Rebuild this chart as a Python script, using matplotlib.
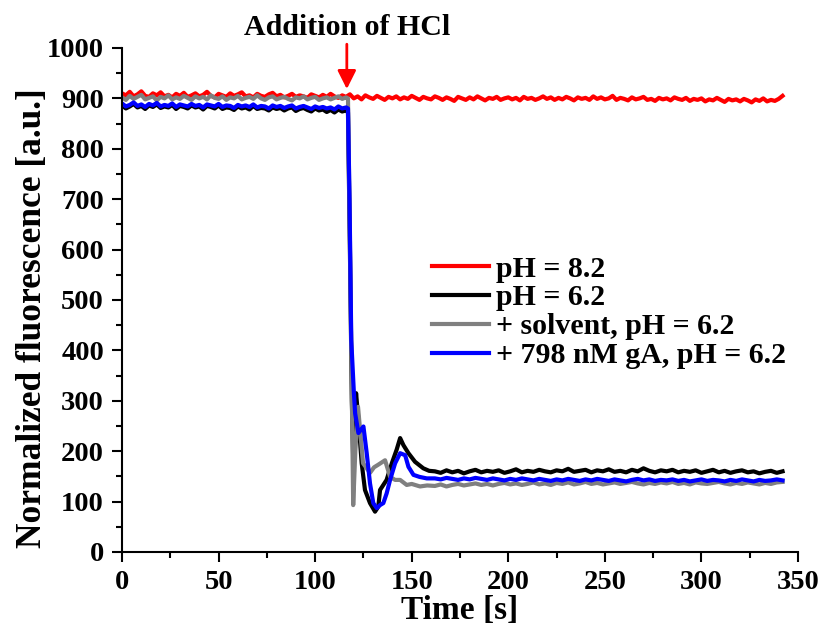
import numpy as np
import matplotlib.pyplot as plt
from matplotlib.ticker import MultipleLocator

plt.rcParams['font.family'] = ['Liberation Serif', 'DejaVu Serif']
plt.rcParams['font.weight'] = 'bold'

# red trace, pH 8.2, sampled every 2 s from 0 to 342 s
red_vals = [910, 906, 913, 904, 908, 914, 905, 903, 910, 906,
            912, 904, 907, 902, 909, 905, 911, 903, 906, 910,
            904, 907, 913, 905, 902, 909, 906, 903, 910, 905,
            908, 912, 904, 906, 902, 909, 905, 903, 908, 911,
            904, 907, 902, 905, 909, 903, 906, 904, 901, 908,
            905, 902, 907, 903, 909, 904, 901, 906, 903, 908,
            900, 904, 898, 906, 902, 899, 905, 901, 897, 903,
            900, 904, 898, 902, 899, 905, 901, 897, 903, 900,
            898, 904, 901, 897, 902, 899, 895, 903, 900, 897,
            902, 898, 904, 900, 896, 901, 899, 903, 897, 900,
            902, 898, 901, 896, 903, 899, 901, 897, 900, 904,
            899, 902, 897, 901, 898, 903, 900, 896, 902, 899,
            901, 897, 904, 899, 902, 898, 900, 905, 897, 901,
            899, 896, 902, 898, 900, 903, 897, 899, 895, 901,
            898, 900, 896, 902, 899, 897, 901, 895, 899, 897,
            900, 894, 898, 896, 901, 897, 893, 899, 896, 898,
            894, 899, 896, 892, 898, 895, 900, 894, 897, 895,
            899, 905]
t_red = np.arange(len(red_vals)) * 2.0

# before HCl (0..116 s, every 2 s)
black_pre = [886, 880, 884, 889, 882, 885, 879, 886, 883, 888,
             881, 884, 882, 887, 879, 885, 883, 880, 886, 882,
             884, 878, 885, 883, 880, 886, 879, 882, 881, 877,
             884, 880, 882, 878, 885, 879, 881, 880, 876, 882,
             879, 881, 876, 880, 882, 875, 879, 881, 877, 874,
             880, 876, 878, 873, 877, 872, 878, 874, 876]
gray_pre = [902, 897, 905, 899, 903, 907, 898, 901, 904, 896,
            903, 900, 906, 898, 902, 899, 905, 901, 897, 904,
            900, 903, 898, 906, 901, 899, 904, 897, 902, 900,
            905, 898, 901, 903, 899, 906, 900, 897, 902, 904,
            898, 901, 903, 899, 896, 902, 900, 904, 898, 901,
            903, 897, 900, 902, 898, 901, 904, 899, 902]
blue_pre = [890, 884, 887, 892, 885, 888, 883, 889, 886, 891,
            884, 887, 885, 890, 883, 888, 886, 884, 889, 885,
            887, 882, 888, 886, 884, 889, 883, 886, 885, 881,
            887, 884, 886, 883, 888, 882, 885, 884, 880, 886,
            883, 885, 881, 884, 886, 880, 883, 885, 882, 879,
            884, 881, 883, 880, 882, 878, 884, 880, 882]
t_pre = np.arange(len(black_pre)) * 2.0

# the drop and the wobble after HCl
t_black_tr = [117, 118, 119, 119.8, 120.5, 121.2, 122.4, 124.1, 125.8, 128.4, 131, 132.7,
              133.6, 135.3, 137, 139.7, 142.2, 144, 145.7, 148.3, 151.7, 156, 159]
black_tr = [872, 600, 300, 169, 260, 315, 262, 176, 123, 97, 80, 90,
            123, 133, 143, 176, 203, 226, 212, 196, 179, 166, 161]
t_gray_tr = [117, 118, 119, 119.7, 120.8, 122.2, 124.8, 128.4, 130.5, 132.6, 136.2, 138.8,
             141.4, 144, 147.4, 150, 154.3, 158]
gray_tr = [900, 620, 300, 93, 200, 288, 176, 157, 168, 173, 182, 149,
           143, 143, 133, 135, 130, 132]
t_blue_tr = [117, 117.8, 118.7, 120, 120.7, 122.4, 125, 126.7, 128.4, 130.1, 131.9, 133.6,
             135.3, 137, 138.8, 141.4, 144, 146.6, 148.3, 150.9, 154, 157.8]
blue_tr = [880, 700, 420, 320, 275, 236, 249, 196, 136, 97, 87, 93,
           97, 116, 143, 176, 196, 192, 169, 153, 149, 146]

# after settling (162..342 s, every 3 s)
black_post = [160, 157, 162, 158, 161, 156, 160, 163, 158, 161,
              159, 162, 157, 160, 164, 158, 161, 159, 163, 160,
              158, 162, 160, 165, 159, 161, 163, 158, 162, 160,
              164, 159, 161, 158, 163, 160, 166, 161, 158, 162,
              160, 163, 158, 161, 159, 162, 157, 160, 163, 158,
              161, 157, 160, 162, 158, 160, 156, 159, 161, 157, 160]
gray_post = [131, 134, 130, 133, 135, 132, 134, 136, 133, 135,
             132, 135, 137, 134, 136, 133, 135, 138, 134, 136,
             133, 137, 135, 138, 134, 136, 139, 135, 137, 134,
             136, 138, 135, 137, 139, 136, 134, 137, 135, 138,
             136, 139, 135, 137, 134, 138, 136, 135, 137, 139,
             136, 134, 137, 135, 138, 136, 134, 137, 135, 138, 139]
blue_post = [146, 144, 147, 145, 143, 146, 144, 147, 145, 143,
             146, 144, 142, 145, 143, 146, 144, 142, 145, 143,
             141, 144, 142, 145, 143, 141, 144, 142, 145, 143,
             141, 144, 142, 140, 143, 145, 142, 144, 141, 143,
             142, 144, 141, 143, 140, 142, 144, 141, 143, 142,
             140, 143, 141, 144, 142, 140, 143, 141, 142, 144, 142]
t_post = 162 + np.arange(len(black_post)) * 3.0

labels = ['pH = 8.2', 'pH = 6.2', '+ solvent, pH = 6.2', '+ 798 nM gA, pH = 6.2']
colors = ['#ff0000', '#000000', '#808080', '#0000ff']

t_black = np.concatenate([t_pre, t_black_tr, t_post])
t_gray = np.concatenate([t_pre, t_gray_tr, t_post])
t_blue = np.concatenate([t_pre, t_blue_tr, t_post])
black = np.concatenate([black_pre, black_tr, black_post])
gray = np.concatenate([gray_pre, gray_tr, gray_post])
blue = np.concatenate([blue_pre, blue_tr, blue_post])

fig = plt.figure(figsize=(8.21, 6.33), dpi=100)
ax = fig.add_axes([0.1486, 0.128, 0.8234, 0.7962])

lw = 3.0
ax.plot(t_red, red_vals, color=colors[0], lw=lw, label=labels[0])
ax.plot(t_black, black, color=colors[1], lw=lw, label=labels[1])
ax.plot(t_gray, gray, color=colors[2], lw=lw, label=labels[2])
ax.plot(t_blue, blue, color=colors[3], lw=lw, label=labels[3])

ax.set_xlim(0, 350)
ax.set_ylim(0, 1000)
ax.xaxis.set_major_locator(MultipleLocator(50))
ax.xaxis.set_minor_locator(MultipleLocator(25))
ax.yaxis.set_major_locator(MultipleLocator(100))
ax.yaxis.set_minor_locator(MultipleLocator(50))
for s in ['top', 'right']:
    ax.spines[s].set_visible(False)
for s in ['left', 'bottom']:
    ax.spines[s].set_linewidth(1.5)
ax.tick_params(which='major', direction='out', length=7, width=1.5, pad=6, labelsize=20.5)
ax.tick_params(which='minor', direction='out', length=4.5, width=1.5)

ax.set_xlabel('Time [s]', fontsize=24, fontweight='bold', labelpad=0)
ax.set_ylabel('Normalized fluorescence [a.u.]', fontsize=25.5, fontweight='bold')
ax.yaxis.set_label_coords(-0.108, 0.464)

# HCl arrow
ax.annotate('', xy=(116.4, 913), xytext=(116.4, 1013), annotation_clip=False,
            arrowprops=dict(arrowstyle='-|>', color='red', lw=2, mutation_scale=28))
ax.text(116.4, 1026, 'Addition of HCl', ha='center', va='baseline', fontsize=21.5,
        fontweight='bold', clip_on=False)

leg = ax.legend(loc='upper left', bbox_to_anchor=(0.4586, 0.588), frameon=False, fontsize=21.5,
                borderpad=0, borderaxespad=0, handlelength=1.9, handletextpad=0.25,
                labelspacing=0.06)

fig.savefig('out.png', dpi=100)
